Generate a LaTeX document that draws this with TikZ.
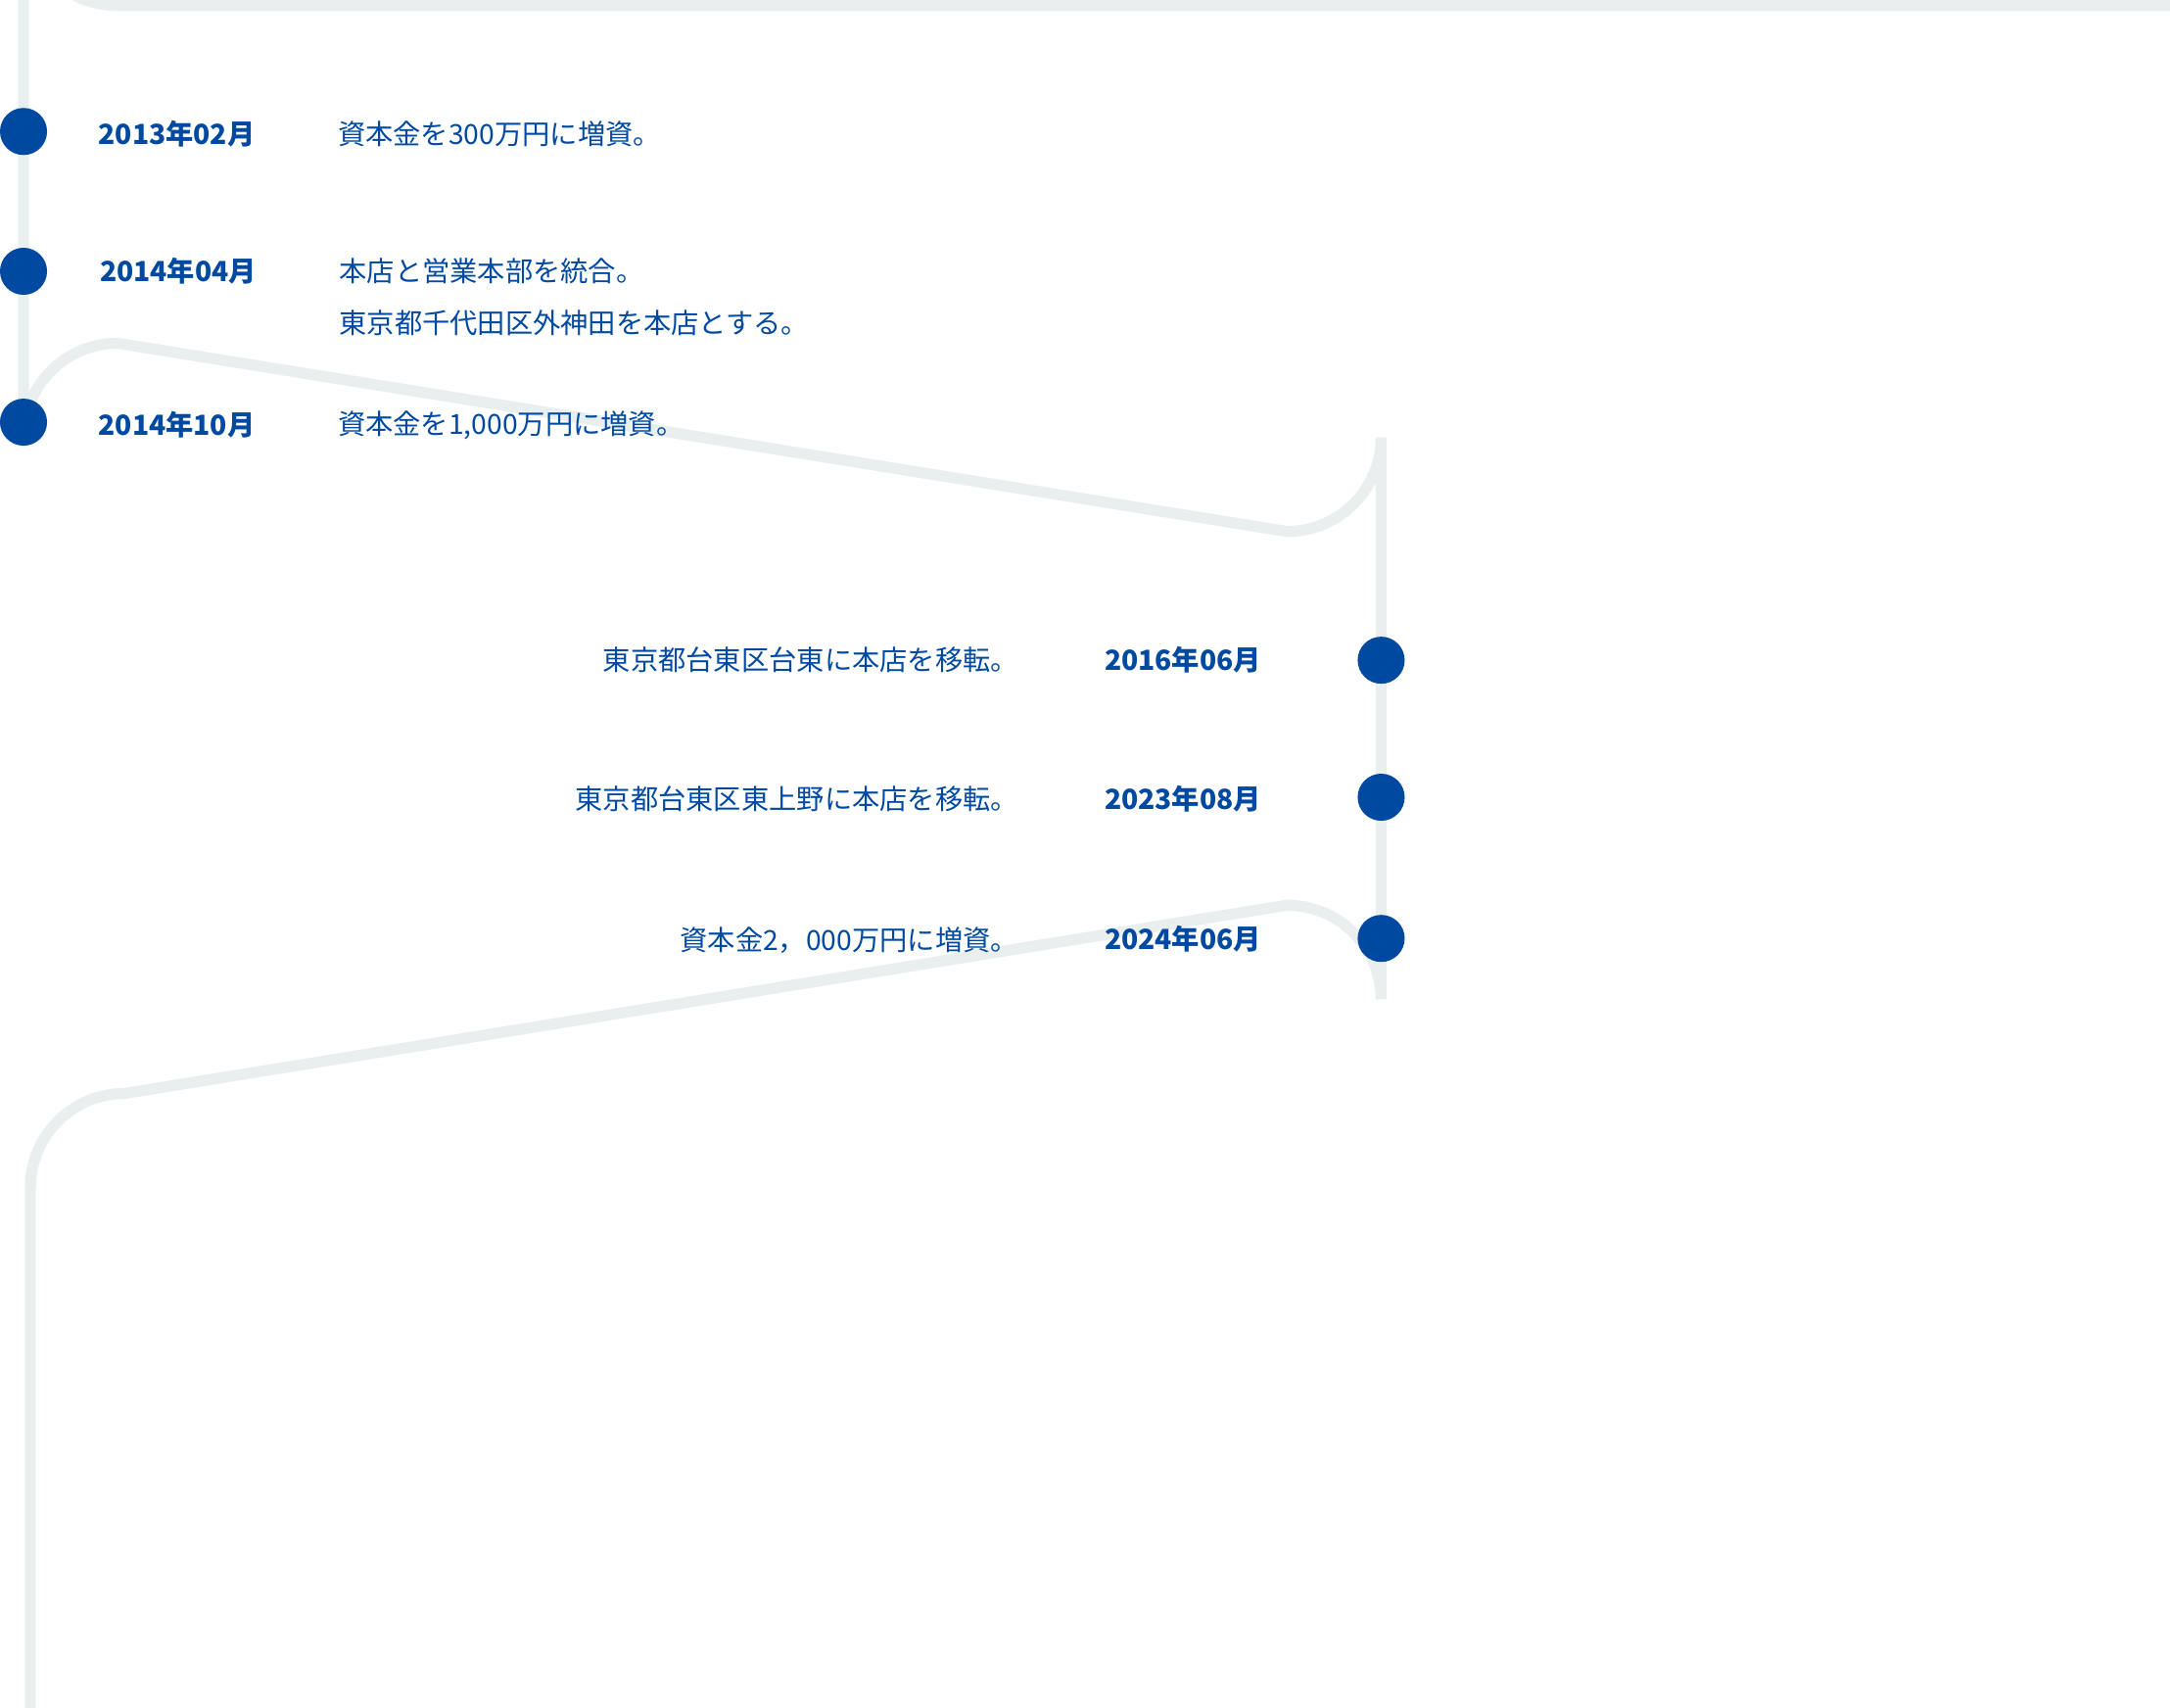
\documentclass[tikz,border=0pt]{standalone}
\usepackage{fontspec}
\setmainfont{Noto Sans CJK JP}
\definecolor{ln}{HTML}{E9EFEE}
\definecolor{bl}{HTML}{0049A0}
\begin{document}
\begin{tikzpicture}[x=1pt,y=-1pt,
 dot/.style={circle,fill=bl,minimum size=34pt,inner sep=0pt},
 dt/.style={text=bl,font=\fontsize{20}{24}\selectfont\bfseries,inner sep=0pt,anchor=west},
 tx/.style={text=bl,font=\fontsize{20}{24}\selectfont,inner sep=0pt,anchor=west},
 txr/.style={tx,anchor=east}]
\useasboundingbox (0,0) rectangle (1568,1234);
\draw[ln,line width=8pt] (1568,4) -- (85,4) arc[start angle=90,end angle=180,radius=68] -- (17,316) arc[start angle=180,end angle=270,radius=68] -- (930,384) arc[start angle=90,end angle=0,radius=68] -- (998,722) arc[start angle=0,end angle=-90,radius=68] -- (90,790) arc[start angle=270,end angle=180,radius=68] -- (22,1234);
\node[dot] (d1) at (17,95) {};
\node[dot] (d2) at (17,196) {};
\node[dot] (d3) at (17,305) {};
\node[dot] (d4) at (998,477) {};
\node[dot] (d5) at (998,576) {};
\node[dot] (d6) at (998,678) {};
\node[dt] (a1) at (71,97) {2013年02月};
\node[tx] (b1) at (244,97) {資本金を300万円に増資。};
\node[dt] (a2) at (72,196) {2014年04月};
\node[tx] (b2) at (245,196) {本店と営業本部を統合。};
\node[tx] (b2b) at (245,233) {東京都千代田区外神田を本店とする。};
\node[dt] (a3) at (71,307) {2014年10月};
\node[tx] (b3) at (244,307) {資本金を1,000万円に増資。};
\node[dt] (a4) at (798,477) {2016年06月};
\node[txr] (b4) at (736,477) {東京都台東区台東に本店を移転。};
\node[dt] (a5) at (798,577) {2023年08月};
\node[txr] (b5) at (736,577) {東京都台東区東上野に本店を移転。};
\node[dt] (a6) at (798,678) {2024年06月};
\node[txr] (b6) at (736,679) {資本金2，000万円に増資。};
\end{tikzpicture}
\end{document}
